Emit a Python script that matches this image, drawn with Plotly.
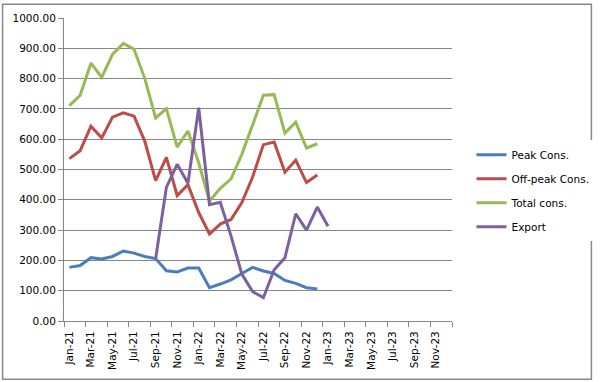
import plotly.graph_objects as go

months = [f"{m}-{y}" for y in ("21", "22", "23") for m in
          ("Jan", "Feb", "Mar", "Apr", "May", "Jun", "Jul", "Aug", "Sep", "Oct", "Nov", "Dec")]
tick_labels = months[::2]

peak = [177, 183, 209, 205, 213, 231, 224, 213, 206, 166, 162, 175,
        175, 110, 122, 136, 157, 177, 165, 157, 134, 124, 110, 106]
offpeak = [536, 562, 643, 604, 673, 687, 676, 593, 463, 540, 414, 450,
           358, 287, 320, 335, 391, 475, 582, 591, 491, 531, 457, 482]
total = [711, 745, 851, 804, 880, 916, 897, 800, 670, 701, 574, 627,
         522, 396, 438, 469, 550, 650, 745, 747, 620, 656, 571, 585]
export = [None] * 8 + [205, 441, 517, 455, 704, 384, 392, 280, 155, 97, 77, 169,
                       209, 354, 300, 376, 313]

series = [
    ("Peak Cons.", peak, "#4A7EBB"),
    ("Off-peak Cons.", offpeak, "#BE4B48"),
    ("Total cons.", total, "#98B954"),
    ("Export", export, "#7D60A0"),
]

fig = go.Figure()
for name, vals, col in series:
    fig.add_trace(go.Scatter(
        x=list(range(len(vals))), y=vals, name=name, mode="lines",
        line=dict(color=col, width=3), legendgroup=name,
    ))

L, R, T, B = 64, 144, 15, 60
W, H = 606, 382
pw, ph = W - L - R, H - T - B

fig.update_layout(
    width=W, height=H,
    margin=dict(l=L, r=R, t=T, b=B),
    paper_bgcolor="white", plot_bgcolor="white",
    font=dict(family="DejaVu Sans", size=10.5, color="#000000"),
    showlegend=True,
    legend=dict(x=(482 - L) / pw, y=(322 - 190) / ph, xanchor="left", yanchor="middle",
                tracegroupgap=5, font=dict(size=10.5), traceorder="grouped"),
    xaxis=dict(
        range=[-0.5, 35.5], tickmode="array",
        tickvals=list(range(0, 36, 2)), ticktext=tick_labels,
        tickangle=-90, ticks="outside", ticklen=5, tickcolor="rgba(0,0,0,0)",
        showgrid=False, showline=True, linecolor="#868686", linewidth=1,
        zeroline=False,
        minor=dict(tickmode="array", tickvals=[i - 0.5 for i in range(0, 37, 2)],
                   ticks="outside", ticklen=5, tickcolor="#868686", showgrid=False),
    ),
    yaxis=dict(
        range=[0, 1000], dtick=100, tickformat=".2f",
        ticks="outside", ticklen=5, tickcolor="#868686",
        showgrid=True, gridcolor="#868686", gridwidth=1,
        showline=True, linecolor="#868686", linewidth=1, zeroline=False,
    ),
    shapes=[dict(
        type="rect", xref="paper", yref="paper",
        x0=(1 - L) / pw, x1=(W - 1 - L) / pw,
        y0=(H - B - (H - 1)) / ph, y1=(H - B - 1) / ph,
        line=dict(color="#888888", width=1.5), fillcolor="rgba(0,0,0,0)",
        layer="below",
    )],
)

fig.write_html(
    "out.html",
    config={"displayModeBar": False},
    post_script="document.body.style.margin='0';document.body.style.overflow='hidden';",
)
